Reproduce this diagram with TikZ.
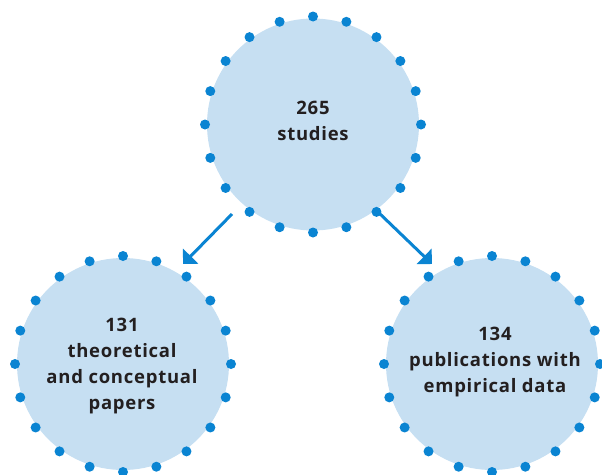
\documentclass[tikz,border=0pt]{standalone}
\usepackage{fontspec}
\setmainfont{Open Sans}[LetterSpace=4]
\usetikzlibrary{arrows.meta}
\definecolor{fillblue}{HTML}{C6DFF2}
\definecolor{dotblue}{HTML}{0A84D2}
\definecolor{txt}{HTML}{231F20}
\tikzset{
  bubble/.style={circle, fill=fillblue, minimum size=212pt, inner sep=0pt,
    text=txt, align=center, font=\fontsize{18.5}{26}\selectfont\bfseries},
  dot/.style={fill=dotblue},
  flow/.style={draw=dotblue, line width=3pt, -{Triangle[length=11pt,width=21pt]}}
}
\begin{document}
\begin{tikzpicture}[x=1pt,y=-1pt]
\useasboundingbox (0,0) rectangle (602,474);
\node[bubble] (top) at (313,124.5) {};
\node[bubble] (left) at (123,364) {};
\node[bubble] (right) at (492,364) {};
\node[bubble, fill=none, minimum size=0pt] (toplabel) at (313,121) {265\\studies};
\node[bubble, fill=none, minimum size=0pt] (leftlabel) at (122,366) {131\\theoretical\\and conceptual\\papers};
\node[bubble, fill=none, minimum size=0pt] (rightlabel) at (495,362) {134\\publications with\\empirical data};
\foreach \n in {top,left,right}{
  \foreach \a in {0,18,...,342}{
    \fill[dot] (\n.center) ++(\a:108pt) circle (5pt);
  }
}
\coordinate (ls) at (232,214);
\coordinate (le) at (183,264);
\coordinate (rs) at (378,212);
\coordinate (re) at (432,264);
\draw[flow] (ls) -- (le);
\draw[flow] (rs) -- (re);
\end{tikzpicture}
\end{document}
